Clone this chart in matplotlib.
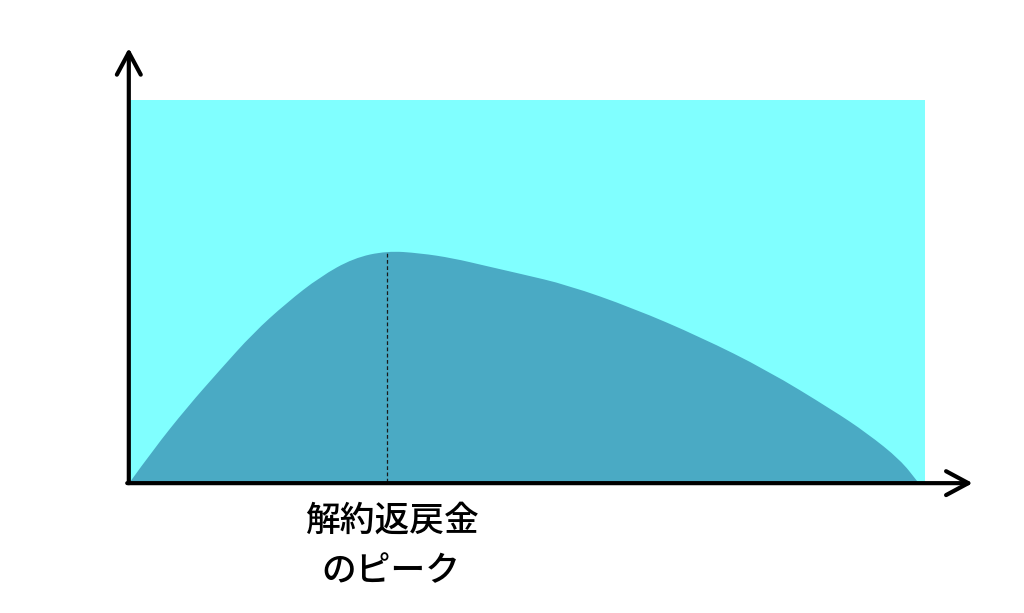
#!/usr/bin/env python3
"""
Surrender value curve: cyan band with the refund curve and its peak marked.
"""

import matplotlib
matplotlib.use('Agg')
from matplotlib import pyplot as plt
from matplotlib.path import Path
from matplotlib.patches import PathPatch

plt.rcParams['font.family'] = ['Noto Sans CJK JP', 'DejaVu Sans']

# elapsed time (0-100) and refund value (0-100, band top = 100)
years = [0, 2.9, 7.2, 11.3, 15.5, 19.7, 23.9, 28.1, 32.3, 36.5, 40.6,
         44.9, 49.1, 55.0, 63.3, 71.7, 80.1, 88.4, 92.7, 96.9, 99.1]
refund = [0, 8.4, 19.6, 29.3, 39.0, 46.9, 53.7, 58.6, 60.5, 59.9, 58.6,
          56.5, 54.5, 51.6, 45.5, 38.0, 29.3, 18.8, 12.8, 5.8, 0]
band_top = 100
peak_label = '解約返戻金'
peak_label2 = 'のピーク'

CYAN = '#80ffff'
DARK = '#4aaac4'


def smooth_area(xs, ys):
    # quadratic bezier through the midpoints, using the points as controls
    verts = [(xs[0], ys[0])]
    codes = [Path.MOVETO]
    for i in range(1, len(xs) - 1):
        mid = ((xs[i] + xs[i + 1]) / 2, (ys[i] + ys[i + 1]) / 2)
        verts += [(xs[i], ys[i]), mid]
        codes += [Path.CURVE3, Path.CURVE3]
    verts.append((xs[-1], ys[-1]))
    codes.append(Path.LINETO)
    verts.append((xs[0], ys[0]))
    codes.append(Path.LINETO)
    return Path(verts, codes)


fig = plt.figure(figsize=(10.24, 6.13), dpi=100)
ax = fig.add_axes([130 / 1024, (613 - 482) / 613, 795 / 1024, 382 / 613])
ax.set_xlim(0, 100)
ax.set_ylim(0, 100)
ax.axis('off')

# background band and the refund area
ax.fill_between([0, 100], 0, band_top, color=CYAN, lw=0, zorder=1)
ax.add_patch(PathPatch(smooth_area(years, refund), facecolor=DARK,
                       lw=0, zorder=2))

# dashed marker at the peak
i_peak = refund.index(max(refund))
px, py = years[i_peak], refund[i_peak]
ax.plot([px, px], [0, py - 0.3], color='#1a1a1a', lw=0.9, ls=(0, (3, 2)),
        zorder=3)

# axes drawn as arrows
arrow = dict(arrowstyle='->,head_length=0.8,head_width=0.43',
             mutation_scale=20, lw=3.0, color='black',
             shrinkA=0, shrinkB=0)
ax.annotate('', xy=(-0.15, 113.6), xytext=(-0.15, -0.3),
            arrowprops=arrow, annotation_clip=False, zorder=5)
ax.annotate('', xy=(106.0, -0.3), xytext=(-0.35, -0.3),
            arrowprops=arrow, annotation_clip=False, zorder=5)

# label under the peak
ax.annotate(peak_label, xy=(px, 0), xytext=(4, -28),
            textcoords='offset points', ha='center', va='center',
            fontsize=25, fontweight='medium', annotation_clip=False)
ax.annotate(peak_label2, xy=(px, 0), xytext=(3, -64),
            textcoords='offset points', ha='center', va='center',
            fontsize=25, fontweight='medium', annotation_clip=False)

fig.savefig('out.png', dpi=100)
